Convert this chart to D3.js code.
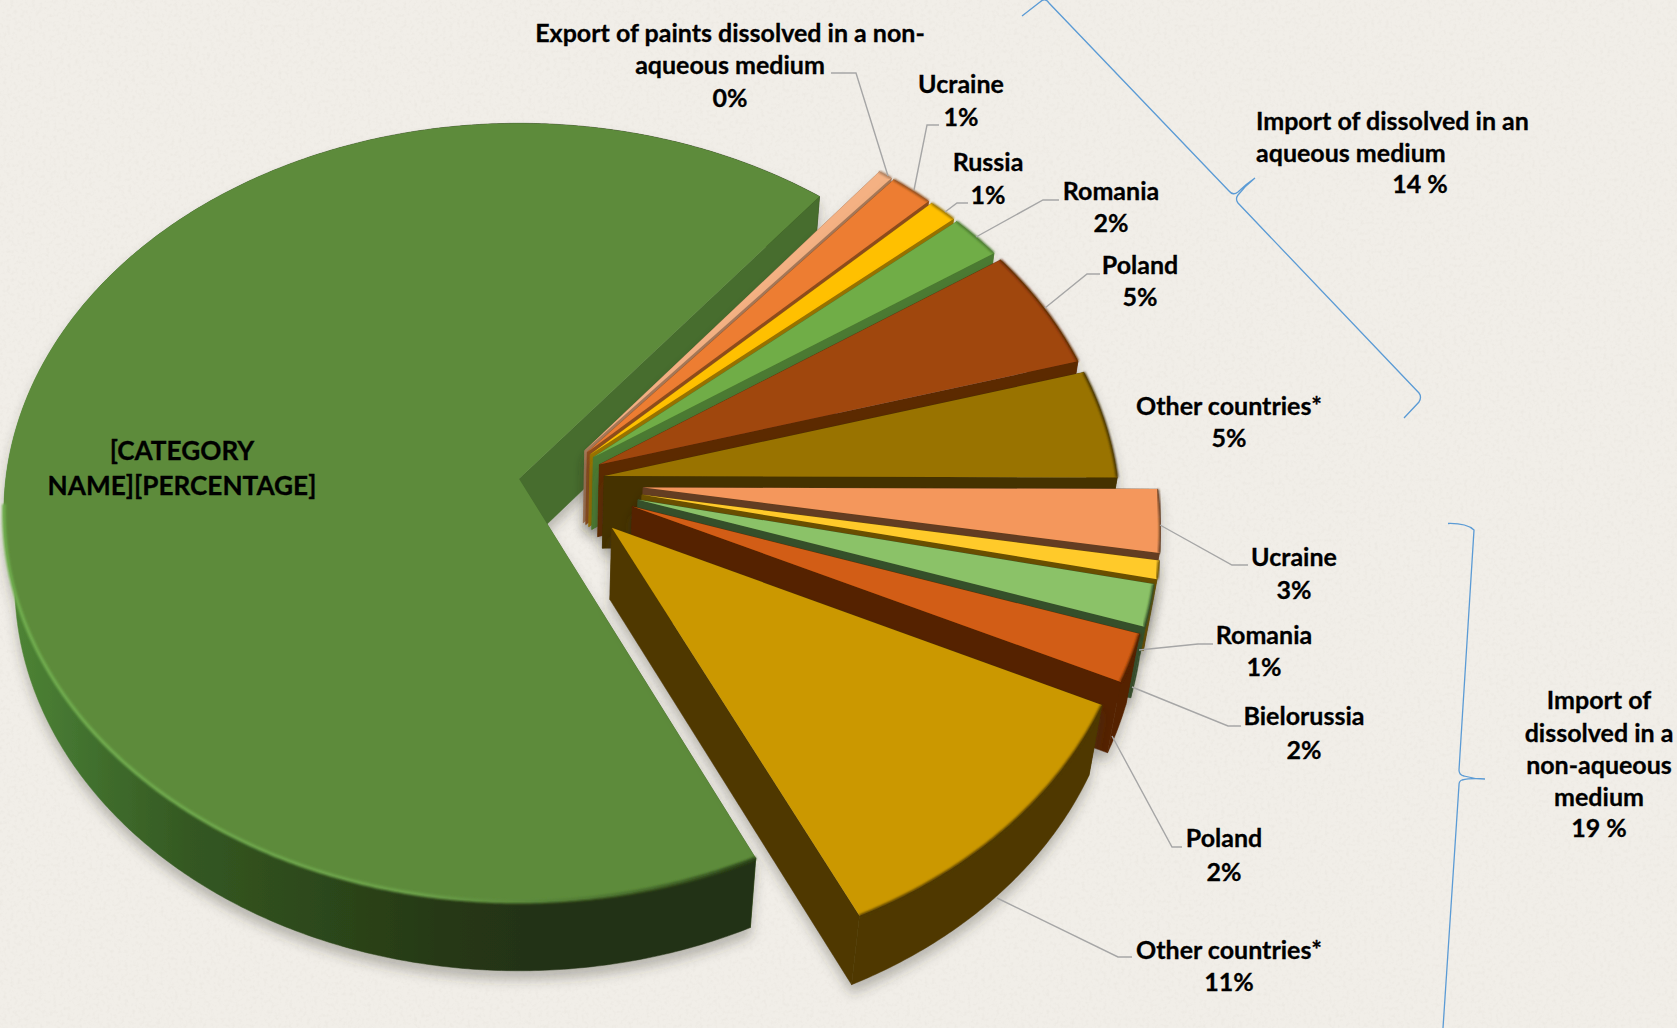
<!DOCTYPE html>
<html>
<head>
<meta charset="utf-8">
<script src="https://cdnjs.cloudflare.com/ajax/libs/d3/7.8.5/d3.min.js"></script>
<style>
  html, body { margin: 0; padding: 0; background: #f0ede7; }
  svg { display: block; }
  text { font-family: Lato, "Open Sans", sans-serif; font-weight: 700; fill: #000; stroke: #000; stroke-width: 0.3px; }
</style>
</head>
<body>
<svg id="chart" width="1677" height="1028"></svg>
<script>
// Share of paint trade by flow and partner country, percent.
const exportNames   = ["Export of paints dissolved in a non-aqueous medium", "Ucraine", "Russia", "Romania", "Poland", "Other countries*"];
const exportValues  = [0.49, 1.49, 1.0, 1.83, 5.0, 4.5];
const importNames   = ["Ucraine", "Romania", "Bielorussia", "Poland", "Other countries*"];
const importValues  = [2.6, 0.75, 1.72, 1.98, 10.9];
const mainName      = "[CATEGORY NAME][PERCENTAGE]";
const mainValue     = 67.74;

// Slice colours: top face, then the darker side wall.
const exportTop   = ["#f4b183", "#ed7d31", "#ffc000", "#70ad47", "#a0460e", "#997300"];
const exportWall  = ["#a87a5a", "#8f4d1e", "#997300", "#4c7a31", "#5c2a06", "#453300"];
const importTop   = ["#f4975b", "#ffca2c", "#8bc267", "#d25d12", "#cb9800"];
const importWall  = ["#633c20", "#6b5000", "#36502a", "#552203", "#4f3900"];
const mainTop     = "#5d8b3b";
const mainWall    = "#466d2d";

// How far each slice is pulled out of the pie, in pie radii.
const exportExplode = [0.105, 0.105, 0.105, 0.105, 0.105, 0.105];
const importExplode = [0.18, 0.18, 0.175, 0.17, 0.166];
const mainExplode   = 0.0625;

// Camera and solid: a tilted disc with perspective, in units of the pie radius.
const tilt = 48.8 * Math.PI / 180, viewDist = 7.6, thickness = 0.218;
const originX = 519, originY = 477, radiusPx = 513;
const pieCentre = [0.062, 0.012];
const startDeg = 38.7;

const svg = d3.select("#chart");
const defs = svg.append("defs");

const paper = defs.append("filter").attr("id", "paper")
  .attr("filterUnits", "userSpaceOnUse").attr("x", 0).attr("y", 0).attr("width", 1677).attr("height", 1028);
paper.append("feTurbulence").attr("type", "fractalNoise").attr("baseFrequency", 0.28).attr("numOctaves", 3).attr("seed", 4);
paper.append("feColorMatrix").attr("type", "matrix")
  .attr("values", "0 0 0 0 0.55  0 0 0 0 0.52  0 0 0 0 0.46  0.9 0 0 0 -0.42");

const shadow = defs.append("filter").attr("id", "shadow")
  .attr("filterUnits", "userSpaceOnUse").attr("x", -40).attr("y", 0).attr("width", 1760).attr("height", 1080);
shadow.append("feDropShadow").attr("dx", 0).attr("dy", 9).attr("stdDeviation", 6)
  .attr("flood-color", "#3a3630").attr("flood-opacity", 0.3);

const soft = defs.append("filter").attr("id", "soft");
soft.append("feGaussianBlur").attr("stdDeviation", 1.1);

const wallShade = defs.append("linearGradient").attr("id", "wallShade")
  .attr("gradientUnits", "userSpaceOnUse").attr("x1", 10).attr("x2", 520).attr("y1", 0).attr("y2", 0);
[[0, "#4f8535"], [0.12, "#447530"], [0.35, "#345822"], [0.62, "#2c471a"], [0.85, "#263816"], [1, "#243314"]]
  .forEach(([o, c]) => wallShade.append("stop").attr("offset", o).attr("stop-color", c));

const rimShade = defs.append("linearGradient").attr("id", "rimShade")
  .attr("gradientUnits", "userSpaceOnUse").attr("x1", 0).attr("x2", 760).attr("y1", 0).attr("y2", 0);
[[0, "#70ad4e"], [0.55, "#6ca24a"], [0.8, "#4d7530"], [1, "#2c451a"]]
  .forEach(([o, c]) => rimShade.append("stop").attr("offset", o).attr("stop-color", c));

svg.append("rect").attr("width", 1677).attr("height", 1028).attr("fill", "#f1eee8");
svg.append("rect").attr("width", 1677).attr("height", 1028).attr("filter", "url(#paper)").attr("opacity", 0.3);

// World coordinates: X to the right, Y toward the viewer, Z up; the top face sits at Z = 0.
function project(X, Y, Z) {
  const v = Y * Math.sin(tilt) - Z * Math.cos(tilt);
  const w = Y * Math.cos(tilt) + Z * Math.sin(tilt);
  const s = 1 / (1 - w / viewDist);
  return [originX + radiusPx * X * s, originY + radiusPx * v * s];
}

const slices = [
  ...exportValues.map((value, i) => ({ value, top: exportTop[i], wall: exportWall[i], explode: exportExplode[i], rim: exportWall[i] })),
  ...importValues.map((value, i) => ({ value, top: importTop[i], wall: importWall[i], explode: importExplode[i], rim: importWall[i] })),
  { value: mainValue, top: mainTop, wall: mainWall, explode: mainExplode, rim: "url(#rimShade)", outer: "url(#wallShade)", main: true }
];

const arcs = d3.pie().sort(null).value(d => d.value)
  .startAngle(startDeg * Math.PI / 180)
  .endAngle((startDeg + 360) * Math.PI / 180)(slices);

const line = d3.line();
const pieGroup = svg.append("g");

// Far to near: the large slice first, then the slices in pie order.
const paintOrder = [arcs[arcs.length - 1], ...arcs.slice(0, -1)];

paintOrder.forEach(a => {
  const d = a.data;
  const toScreen = t => t - Math.PI / 2;             // d3.pie angle to screen angle
  const t0 = toScreen(a.startAngle), t1 = toScreen(a.endAngle), mid = (t0 + t1) / 2;
  const ax = pieCentre[0] + d.explode * Math.cos(mid);
  const ay = pieCentre[1] + d.explode * Math.sin(mid);
  const steps = Math.max(4, Math.ceil((t1 - t0) * 180 / Math.PI * 2));
  const rim = d3.range(steps + 1).map(i => t0 + (t1 - t0) * i / steps);
  const rimAt = z => rim.map(t => project(ax + Math.cos(t), ay + Math.sin(t), z));

  const apexTop = project(ax, ay, 0), apexLow = project(ax, ay, -thickness);
  const topArc = rimAt(0), lowArc = rimAt(-thickness);

  const startWall = [apexTop, topArc[0], lowArc[0], apexLow];
  const endWall = [apexTop, topArc[steps], lowArc[steps], apexLow];
  // A cut wall faces the viewer when its outward normal has a positive Y.
  const startFaces = Math.sin(t0 - Math.PI / 2) > 0;
  const endFaces = Math.sin(t1 + Math.PI / 2) > 0;
  const wallPath = (g, pts) => g.append("path").attr("fill", d.wall).attr("stroke", d.wall)
    .attr("stroke-width", 0.5).attr("d", line(pts) + "Z");

  const g = pieGroup.append("g").attr("filter", "url(#shadow)");
  if (!startFaces) wallPath(g, startWall);
  if (!endFaces) wallPath(g, endWall);
  g.append("path").attr("fill", d.outer || d.wall).attr("stroke", d.outer || d.wall).attr("stroke-width", 0.5)
    .attr("d", line([...topArc, ...lowArc.slice().reverse()]) + "Z");
  if (startFaces) wallPath(g, startWall);
  if (endFaces) wallPath(g, endWall);

  // Top face with a soft bevel along the rim; the large slice has it only where its wall shows.
  g.append("path").attr("fill", d.top).attr("d", line([apexTop, ...topArc]) + "Z");
  const bevel = d.main ? topArc.filter((p, i) => Math.sin(rim[i]) > 0.06 && Math.cos(rim[i]) < 0.95) : topArc;
  g.append("path").attr("fill", "none").attr("stroke", d.rim).attr("stroke-width", d.main ? 3.5 : 2.5)
    .attr("filter", "url(#soft)").attr("d", line(bevel));
});

// Leader lines from slices to their labels.
const leaders = [
  [[888,176],[856,73],[831,73]],
  [[914,190],[927,125],[939,125]],
  [[945,212],[957,203],[968,203]],
  [[976,237],[1043,200],[1059,200]],
  [[1045,308],[1087,274],[1100,274]],
  [[1160,525],[1232,565],[1248,565]],
  [[1139,650],[1198,644],[1213,644]],
  [[1132,687],[1228,726],[1241,726]],
  [[1112,736],[1172,847],[1182,847]],
  [[997,898],[1118,957],[1132,957]]
];
svg.append("g").selectAll("path").data(leaders).join("path")
  .attr("d", d => line(d)).attr("fill", "none").attr("stroke", "#a6a6a6").attr("stroke-width", 1.4);

// Curly braces that group the export and import slices.
const braces = [
  "M1022,16 L1040,2 Q1045,-3 1049,3 L1229,191 Q1233,196 1238,192 Q1246,184 1255,178 Q1245,186 1238,195 Q1235,199 1238,203 L1419,393 Q1422,397 1419,402 L1404,418",
  "M1448,523.5 Q1466,523 1474,530 L1459,770 Q1459,775 1464,776 Q1474,779 1485,779 Q1470,778 1462,780 Q1459,781 1459,785 L1443,1028"
];
svg.append("g").selectAll("path").data(braces).join("path")
  .attr("d", d => d).attr("fill", "none").attr("stroke", "#5b9bd5").attr("stroke-width", 1.3);

// Data labels.
const fmt = v => Math.round(v) + "%";
const labelLines = [
  { x: 730,  lines: [["Export of paints dissolved in a non-", 32], ["aqueous medium", 64], [fmt(exportValues[0]), 97]] },
  { x: 961,  lines: [[exportNames[1], 83],  [fmt(exportValues[1]), 116]] },
  { x: 988,  lines: [[exportNames[2], 161], [fmt(exportValues[2]), 194]] },
  { x: 1111, lines: [[exportNames[3], 190], [fmt(exportValues[3]), 222]] },
  { x: 1140, lines: [[exportNames[4], 264], [fmt(exportValues[4]), 296]] },
  { x: 1229, lines: [[exportNames[5], 405], [fmt(exportValues[5]), 437]] },
  { x: 1294, lines: [[importNames[0], 556], [fmt(importValues[0]), 589]] },
  { x: 1264, lines: [[importNames[1], 634], [fmt(importValues[1]), 666]] },
  { x: 1304, lines: [[importNames[2], 715], [fmt(importValues[2]), 749]] },
  { x: 1224, lines: [[importNames[3], 837], [fmt(importValues[3]), 871]] },
  { x: 1229, lines: [[importNames[4], 949], [fmt(importValues[4]), 981]] },
  { x: 1420, lines: [["14 %", 183]] },
  { x: 1599, lines: [["Import of", 699], ["dissolved in a", 732], ["non-aqueous", 764], ["medium", 796], ["19 %", 827]] }
];
const labelLayer = svg.append("g").attr("font-size", 25);
labelLines.forEach(l => l.lines.forEach(([s, y]) => {
  labelLayer.append("text").attr("x", l.x).attr("y", y).attr("text-anchor", "middle")
    .attr("dominant-baseline", "central").text(s);
}));
[["Import of dissolved in an", 120], ["aqueous medium", 152]].forEach(([s, y]) => {
  labelLayer.append("text").attr("x", 1256).attr("y", y).attr("dominant-baseline", "central").text(s);
});

const mainLabel = svg.append("g").attr("font-size", 26.2).attr("text-anchor", "middle");
[["[CATEGORY", 450], ["NAME][PERCENTAGE]", 485]].forEach(([s, y]) => {
  mainLabel.append("text").attr("x", 182).attr("y", y).attr("dominant-baseline", "central").text(s);
});
</script>
</body>
</html>
